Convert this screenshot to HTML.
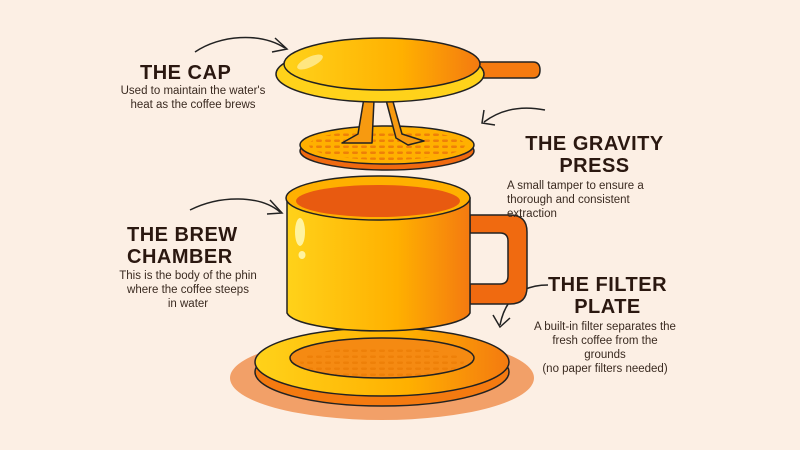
<!DOCTYPE html><html><head><style>
body{margin:0;background:#fcefe4;width:800px;height:450px;overflow:hidden;position:relative;font-family:"Liberation Sans",sans-serif}
.t{position:absolute;font-weight:bold;font-size:20px;color:#2b1810;line-height:22px;letter-spacing:0.5px}
.d{position:absolute;font-size:11.5px;color:#3a2a20;line-height:14px}
</style></head><body>
<svg width="800" height="450" style="position:absolute;left:0;top:0">
<defs>
<linearGradient id="g1" x1="0" x2="1"><stop offset="0" stop-color="#ffd21a"/><stop offset="0.6" stop-color="#ffb000"/><stop offset="1" stop-color="#f47a10"/></linearGradient>
<pattern id="dots" width="9" height="6" patternUnits="userSpaceOnUse"><rect x="1" y="1.5" width="6" height="2.5" rx="1.2" fill="#ee8008"/></pattern>
</defs>
<g fill="none" stroke="#222" stroke-width="1.5">
<path d="M195 52 C220 35 260 32 285 48"/><path d="M275 38 L287 49 L272 52"/>
<path d="M545 110 C520 105 500 110 484 122"/><path d="M484 110 L482 123 L495 125"/>
<path d="M190 210 C220 195 260 195 280 212"/><path d="M270 200 L282 213 L267 214"/>
<path d="M548 285 C520 285 505 300 500 325"/><path d="M493 315 L500 327 L510 318"/>
</g>
<ellipse cx="382" cy="378" rx="152" ry="42" fill="#f2a068"/>
<ellipse cx="382" cy="372" rx="127" ry="34" fill="#f47a10" stroke="#222" stroke-width="1.5"/>
<ellipse cx="382" cy="362" rx="127" ry="34" fill="url(#g1)" stroke="#222" stroke-width="1.5"/>
<ellipse cx="382" cy="358" rx="92" ry="20" fill="#f58a12" stroke="#222" stroke-width="1.5"/>
<ellipse cx="382" cy="362" rx="82" ry="15" fill="url(#dots)"/>
<path d="M470 215 h40 q17 0 17 17 v55 q0 17 -17 17 h-40 v-20 h30 q8 0 8 -8 v-35 q0 -8 -8 -8 h-30z" fill="#f06a10" stroke="#222" stroke-width="1.5"/>
<path d="M287 198 V313 A92 20 0 0 0 470 313 V198z" fill="url(#g1)" stroke="#222" stroke-width="1.5"/>
<ellipse cx="378" cy="198" rx="92" ry="22" fill="#ffb000" stroke="#222" stroke-width="1.5"/>
<ellipse cx="378" cy="201" rx="82" ry="16" fill="#e85a10"/>
<ellipse cx="300" cy="232" rx="5" ry="14" fill="#fff3a0"/>
<ellipse cx="302" cy="255" rx="3.5" ry="4" fill="#fff3a0"/>
<ellipse cx="387" cy="151" rx="87" ry="19" fill="#f06a10" stroke="#222" stroke-width="1.5"/>
<ellipse cx="387" cy="145" rx="87" ry="19" fill="#ffb000" stroke="#222" stroke-width="1.5"/>
<ellipse cx="387" cy="145" rx="78" ry="15" fill="url(#dots)"/>
<path d="M364 98 L358 134 L342 143 L372 143 L374 100z M392 98 L402 134 L424 141 L408 145 L396 138 L386 100z" fill="#f79a10" stroke="#222" stroke-width="1.5" stroke-linejoin="round"/>
<path d="M478 62 H533 Q540 62 540 70 Q540 78 533 78 H478z" fill="#f47a10" stroke="#222" stroke-width="1.5"/>
<ellipse cx="380" cy="74" rx="104" ry="28" fill="#ffd21a" stroke="#222" stroke-width="1.5"/>
<ellipse cx="382" cy="64" rx="98" ry="26" fill="url(#g1)" stroke="#222" stroke-width="1.5"/>
<ellipse cx="310" cy="62" rx="14" ry="5" fill="#ffe680" transform="rotate(-25 310 62)"/>
</svg>
<div class="t" style="left:140px;top:62px">THE CAP</div>
<div class="d" style="left:103px;top:84px;width:180px;text-align:center">Used to maintain the water's<br>heat as the coffee brews</div>
<div class="t" style="left:512px;top:133px;width:165px;text-align:center">THE GRAVITY<br>PRESS</div>
<div class="d" style="left:507px;top:179px;width:160px">A small tamper to ensure a<br>thorough and consistent<br>extraction</div>
<div class="t" style="left:127px;top:224px">THE BREW<br>CHAMBER</div>
<div class="d" style="left:103px;top:269px;width:170px;text-align:center">This is the body of the phin<br>where the coffee steeps<br>in water</div>
<div class="t" style="left:540px;top:274px;width:135px;text-align:center">THE FILTER<br>PLATE</div>
<div class="d" style="left:525px;top:320px;width:160px;text-align:center">A built-in filter separates the<br>fresh coffee from the<br>grounds<br>(no paper filters needed)</div>
</body></html>
